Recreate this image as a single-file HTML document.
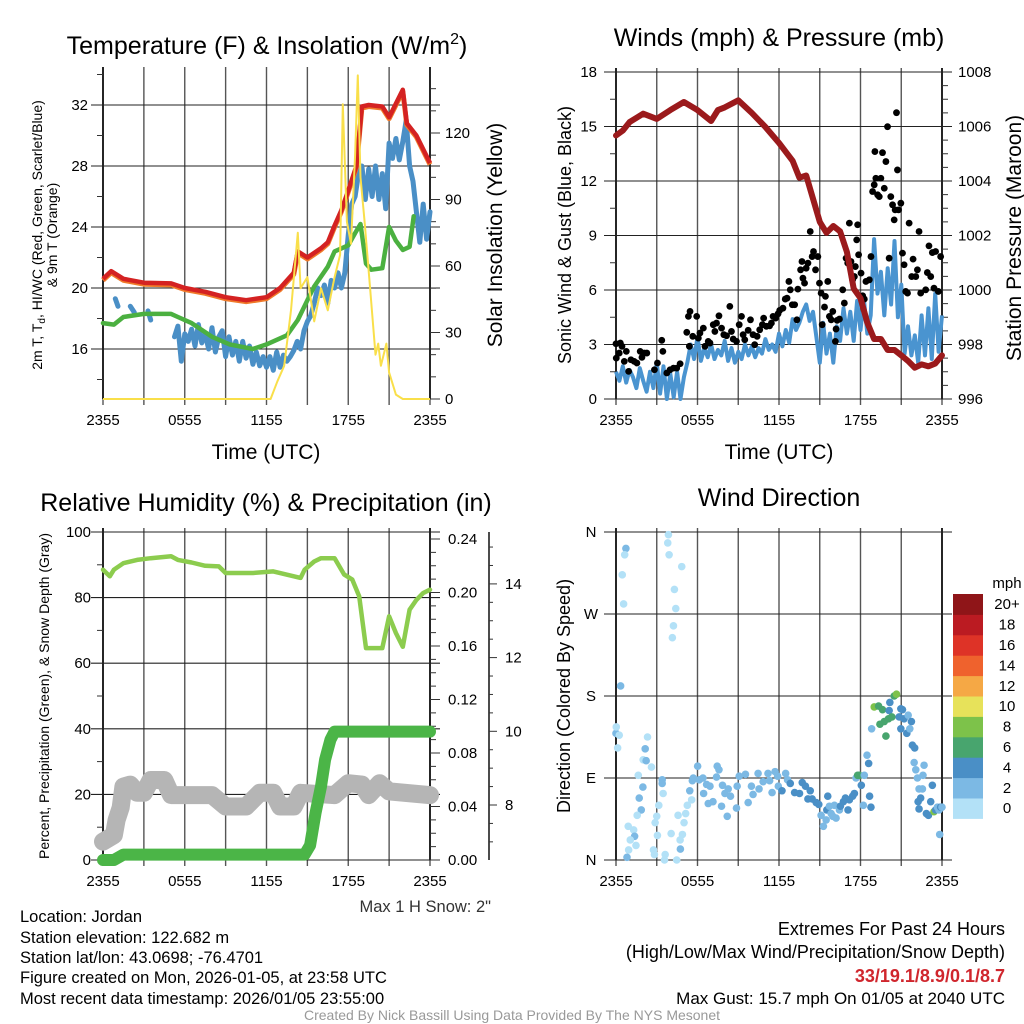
<!DOCTYPE html>
<html><head><meta charset="utf-8"><style>
html,body{margin:0;padding:0;background:#fff;}
svg{display:block;font-family:"Liberation Sans",Arial,sans-serif;}
</style></head><body>
<svg id="chart" width="1024" height="1024" viewBox="0 0 1024 1024" xmlns="http://www.w3.org/2000/svg">
<rect width="1024" height="1024" fill="#fff"/>
<g id="layer"></g>
<text x="267" y="54" font-size="25" text-anchor="middle">Temperature (F) &amp; Insolation (W/m<tspan font-size="16" dy="-10">2</tspan><tspan dy="10">)</tspan></text>
<text x="779" y="46" font-size="25" text-anchor="middle">Winds (mph) &amp; Pressure (mb)</text>
<text x="266" y="511" font-size="25" text-anchor="middle">Relative Humidity (%) &amp; Precipitation (in)</text>
<text x="779" y="506" font-size="25" text-anchor="middle">Wind Direction</text>
<text x="266" y="459" font-size="21" text-anchor="middle">Time (UTC)</text>
<text x="779" y="459" font-size="21" text-anchor="middle">Time (UTC)</text>
<text font-size="14" text-anchor="middle" transform="translate(42,235) rotate(-90)">2m T, T<tspan font-size="10" dy="3">d</tspan><tspan dy="-3">, HI/WC (Red, Green, Scarlet/Blue)</tspan></text>
<text font-size="14" text-anchor="middle" transform="translate(57,235) rotate(-90)">&amp; 9m T (Orange)</text>
<text font-size="21" text-anchor="middle" transform="translate(502,235) rotate(-90)">Solar Insolation (Yellow)</text>
<text font-size="18" text-anchor="middle" transform="translate(571,235) rotate(-90)">Sonic Wind &amp; Gust (Blue, Black)</text>
<text font-size="21" text-anchor="middle" transform="translate(1021,238) rotate(-90)">Station Pressure (Maroon)</text>
<text font-size="14" text-anchor="middle" transform="translate(49,696) rotate(-90)">Percent, Precipitation (Green), &amp; Snow Depth (Gray)</text>
<text font-size="18" text-anchor="middle" transform="translate(570,696) rotate(-90)">Direction (Colored By Speed)</text>
<text x="491" y="912" font-size="16.5" text-anchor="end" fill="#333">Max 1 H Snow: 2"</text>
<g font-size="16.5">
<text x="20" y="922">Location: Jordan</text>
<text x="20" y="943">Station elevation: 122.682 m</text>
<text x="20" y="963">Station lat/lon: 43.0698; -76.4701</text>
<text x="20" y="983">Figure created on Mon, 2026-01-05, at 23:58 UTC</text>
<text x="20" y="1004">Most recent data timestamp: 2026/01/05 23:55:00</text>
</g>
<g font-size="18" text-anchor="end">
<text x="1005" y="935">Extremes For Past 24 Hours</text>
<text x="1005" y="958">(High/Low/Max Wind/Precipitation/Snow Depth)</text>
<text x="1005" y="982" fill="#d0262d" font-weight="bold">33/19.1/8.9/0.1/8.7</text>
<text x="1005" y="1004" font-size="17">Max Gust: 15.7 mph On 01/05 at 2040 UTC</text>
</g>
<text x="512" y="1020" font-size="14" text-anchor="middle" fill="#999">Created By Nick Bassill Using Data Provided By The NYS Mesonet</text>
</svg>
<script>
// ---------- DATA ----------
const timeLabels=["2355","0555","1155","1755","2355"];
// Panel 1
const tempHours=[0,0.6,1.5,3,5,6,7.5,9,10.5,12,13,14,14.3,15,16,16.5,17,17.5,18,18.6,19,19.5,20.5,21,22,22.3,23,24];
const tempVals=[20.6,21.1,20.6,20.35,20.3,20.0,19.75,19.4,19.2,19.4,20.0,21.0,22.4,22.0,22.6,23.0,24.1,25.1,26.4,28.0,31.9,32.0,31.9,31.2,33.0,30.8,30.0,28.2];
const dewHours=[0,0.8,1.5,3,5,5.5,6.5,8,9.3,11,12,13.5,14.3,15,15.5,16.5,17,18,18.5,18.9,19.3,19.7,20.5,21,21.5,22,22.5,22.8];
const dewVals=[17.7,17.6,18.1,18.3,18.3,18.1,17.7,16.8,16.3,16.0,16.3,16.9,17.9,19.2,20.1,21.4,22.4,22.8,23.6,24.2,21.6,21.2,21.3,24.0,23.1,22.5,22.7,24.7];
const wcHours=[0.9,1.1,null,2.0,2.3,null,3.3,3.5,null,5.25,5.5,5.75,6,6.25,6.5,6.75,7,7.25,7.5,7.75,8,8.25,8.5,8.75,9,9.25,9.5,9.75,10,10.25,10.5,10.75,11,11.25,11.5,11.75,12,12.25,12.5,12.75,13,13.25,13.5,13.75,14,14.25,14.5,14.75,15,15.25,15.5,15.75,16,16.25,16.5,16.75,17,17.25,17.5,17.75,18,18.25,18.5,18.75,19,19.25,19.5,19.75,20,20.25,20.5,20.75,21,21.25,21.5,21.75,22,22.25,22.5,22.75,23,23.25,23.5,23.75,24];
const wcVals=[19.3,18.8,null,18.8,18.4,null,18.5,17.9,null,16.8,17.5,15.2,17.0,16.5,17.3,16.2,17.6,16.4,17.0,16.0,17.4,15.8,16.8,17.2,15.5,16.8,15.6,16.5,15.2,16.5,15.4,16.2,15.0,15.8,14.9,15.5,14.8,15.5,14.6,15.8,14.8,15.6,15.2,15.5,15.9,16.5,16.0,17.2,17.8,18.2,19.0,20.0,19.5,20.2,19.0,20.5,20.0,21.0,20.0,21.0,23.5,25.5,26.0,27.5,28.0,25.8,27.8,26.0,28.0,25.8,27.5,25.2,29.5,28.5,29.8,28.4,29.6,31.0,28.0,27.0,25.0,23.0,25.5,23.2,25.0];
const solHours=[0,12.3,12.8,13.3,13.8,14.3,14.5,15,15.5,16,16.5,17,17.4,17.6,17.9,18.2,18.5,18.7,18.9,19.2,19.6,20,20.2,20.4,20.8,21,21.5,22,24];
const solVals=[0,0,8,15,40,75,50,55,35,50,40,55,65,133,80,70,110,146,100,80,50,20,25,15,25,12,2,0,0];
const tempTicks=[16,20,24,28,32];
const solTicks=[0,30,60,90,120];
// Panel 2
const presHours=[0,0.5,1,2,3,4,5,6,7,7.5,8,9,10,11,12,13,13.5,14,15,15.5,16,16.5,17,17.5,18,18.5,19,19.5,20,20.5,21,21.5,22,22.5,23,23.5,24];
const presVals=[1005.67,1005.85,1006.16,1006.47,1006.28,1006.6,1006.9,1006.6,1006.2,1006.6,1006.7,1006.96,1006.5,1005.98,1005.4,1004.74,1004.12,1004.2,1002.5,1002.1,1002.35,1002.15,1001.4,1000.05,999.7,998.8,998.2,998.2,997.8,997.8,997.6,997.4,997.15,997.27,997.2,997.3,997.6];
const windVals=[1.5,1.0,1.8,0.9,1.6,1.2,0.6,1.7,1.0,0.4,1.5,0.6,2.0,0.3,1.8,0.0,1.4,0.1,1.5,0.0,1.2,2.0,3.0,2.2,3.4,2.1,2.8,2.3,3.0,2.2,2.7,2.4,3.2,2.1,2.8,2.0,2.6,2.2,3.0,2.4,2.9,2.3,2.8,2.5,3.3,2.7,3.0,2.6,3.6,2.9,3.8,3.1,4.4,3.8,4.2,4.8,5.2,4.3,4.8,3.4,2.0,4.2,2.5,3.6,2.0,4.0,3.2,5.0,3.6,4.8,3.2,5.4,3.8,5.5,3.6,4.6,8.8,5.8,7.0,4.6,7.2,5.2,8.7,4.5,6.3,2.5,4.0,2.4,3.5,2.0,4.6,2.4,5.0,2.2,5.8,2.6,4.6];
const gustHours=[0.0,0.02,0.32,0.24,0.44,0.61,0.76,0.93,1.1,1.34,1.54,1.78,1.91,2.08,2.27,2.83,3.05,3.37,3.45,3.74,3.98,4.23,4.47,4.72,5.21,5.33,5.45,5.4,5.65,5.94,6.06,6.18,6.43,6.55,6.79,6.92,7.16,7.28,7.4,7.58,7.77,7.94,8.14,8.38,8.5,8.63,8.87,9.07,9.24,9.36,9.48,9.73,9.9,10.09,10.21,10.39,10.58,10.78,10.87,11.07,11.31,11.44,11.56,11.75,11.93,12.05,12.29,12.46,12.59,12.73,12.83,12.98,13.15,13.32,13.39,13.59,13.69,13.76,13.88,14.0,14.13,14.3,14.44,14.54,14.69,14.86,14.98,15.1,15.18,15.35,15.42,15.59,15.71,15.84,15.96,16.15,16.2,16.28,16.45,16.69,16.81,16.94,17.06,17.18,17.3,17.42,17.55,17.62,17.72,17.79,17.86,18.04,18.16,18.28,18.4,18.65,18.77,18.89,19.01,19.06,19.13,19.26,19.38,19.5,19.62,19.75,19.87,19.99,20.11,20.23,20.36,20.48,20.55,20.65,20.72,20.8,20.97,21.09,21.21,21.33,21.46,21.58,21.77,21.87,22.07,22.19,22.31,22.43,22.8,22.92,23.04,23.17,23.29,23.41,23.53,23.73,23.9];
const gustVals=[3.04,2.25,3.08,2.53,2.9,2.07,2.62,1.52,2.16,2.07,1.98,2.62,2.29,2.53,2.53,1.61,1.98,3.23,2.62,1.43,1.61,1.7,1.7,1.94,3.67,4.55,4.82,2.9,3.45,4.55,3.35,3.63,3.9,2.9,3.17,3.08,4.09,3.72,4.18,4.58,3.9,3.54,3.48,5.1,3.72,3.3,3.17,4.09,4.55,3.54,3.26,3.78,4.36,3.54,2.99,3.45,3.81,4.09,4.45,4.0,4.03,4.18,4.55,4.45,4.69,4.88,5.0,5.5,5.55,6.47,6.01,5.19,5.19,4.36,6.05,7.11,7.57,6.65,6.38,7.2,7.48,9.22,7.84,8.12,7.11,7.84,6.38,5.83,4.09,5.06,5.65,6.47,4.55,4.36,4.82,3.17,3.85,4.33,4.4,6.01,5.28,7.75,7.48,9.68,7.57,6.56,6.74,7.29,8.76,9.59,7.94,6.93,5.68,5.5,6.47,6.56,7.84,11.42,11.79,13.62,12.15,11.24,11.14,12.15,13.56,11.6,13.07,14.99,7.75,11.14,10.69,9.86,10.41,15.76,12.61,10.41,10.78,8.03,7.39,5.92,5.83,9.68,6.74,7.7,6.74,7.11,9.22,5.83,6.01,6.96,8.43,6.74,8.06,6.1,8.12,5.92,7.84];
const speedTicks=[0,3,6,9,12,15,18];
const presTicks=[996,998,1000,1002,1004,1006,1008];
// Panel 3
const rhHours=[0,0.5,0.8,1.5,2.5,3.5,5,5.5,6.5,7.5,8.5,9,11,12.5,14,14.5,14.8,15.5,16,17,17.7,18.3,18.8,19.3,20.5,21,21.5,22,22.5,23,23.5,24];
const rhVals=[88.5,86.5,88.5,90.5,91.5,92,92.6,91.5,90.7,89.7,89.5,87.5,87.5,88,86.5,86,88.5,91,92,92,87,85.5,80.4,64.6,64.6,74.3,69.2,65,76.3,79.3,81.4,82.4];
const precipHours=[0,0.8,1.5,14.8,15.2,15.6,16,16.3,16.7,17,24];
const precipVals=[0,0,0.004,0.004,0.011,0.035,0.055,0.075,0.09,0.096,0.096];
const snowHours=[0,0.8,1,1.3,1.5,2,2.5,3,3.5,4.5,5,8,9,10.5,11.5,12.5,13,14,14.5,17,18,19,19.5,20.3,21,24];
const snowVals=[5.6,7.6,12.2,16,22.4,23,20.5,20.5,24.4,24.4,19.8,19.8,16.3,16.3,20.5,20.5,16.3,16.3,20.5,19.8,23.4,23,19.8,23.4,20.9,19.8];
const pctTicks=[0,20,40,60,80,100];
const precipTicks=["0.00","0.04","0.08","0.12","0.16","0.20","0.24"];
const snowTicks=[8,10,12,14];
// Panel 4
const dirHours=[0.73,0.64,0.46,0.56,0.34,0.0,0.02,0.24,0.12,2.32,2.15,2.0,2.22,2.61,1.64,1.98,1.71,1.86,1.56,0.9,1.3,1.37,1.05,0.93,1.47,0.81,2.76,2.83,3.62,3.57,4.47,4.74,4.06,4.72,4.89,3.05,2.88,3.0,3.15,3.47,3.4,3.4,3.86,3.81,3.91,4.84,4.3,4.4,4.23,4.15,4.57,5.01,5.13,5.25,5.57,5.43,5.62,6.01,5.69,6.13,6.45,6.4,6.67,6.79,7.14,6.92,7.4,7.45,7.58,7.77,7.84,8.02,8.19,8.26,8.43,8.87,8.92,9.07,9.53,9.73,9.97,10.09,10.46,10.53,10.83,11.19,11.31,11.49,11.71,11.9,11.95,12.22,12.49,12.63,12.83,13.15,13.51,13.71,13.95,14.13,14.3,14.44,14.74,14.93,15.1,15.27,15.47,15.59,15.52,15.71,15.84,16.08,15.96,16.2,16.45,16.52,16.74,16.89,17.08,17.18,17.42,17.55,17.67,17.79,17.91,18.06,18.21,18.28,18.48,18.6,18.67,18.77,18.82,19.01,19.33,19.43,19.62,19.75,19.87,20.06,20.16,20.11,20.31,20.48,20.65,20.85,20.97,21.09,21.21,20.97,21.41,21.51,21.63,21.75,21.82,21.99,21.95,22.07,22.19,22.6,22.68,22.31,22.56,22.43,22.24,22.31,22.85,23.0,23.17,23.29,23.41,23.53,23.66,23.78,23.9,24.0,23.83];
const dirDeg=[342,335,313,281,191,139,146,137,123,135,122,110,109,102,93,80,68,55,49,37,33,26,22,11,16,3,11,6,6,0,0,12,29,22,28,27,41,48,60,73,84,88,357,348,335,322,297,276,257,244,49,41,51,60,66,76,87,103,90,88,73,90,83,62,64,81,91,103,99,59,82,73,48,78,70,57,81,92,94,63,81,72,95,78,86,95,87,74,97,92,81,76,95,88,84,74,73,85,81,67,76,67,63,61,49,37,44,70,55,59,51,60,48,46,55,59,64,68,55,66,70,73,90,93,93,82,60,93,115,106,70,58,144,168,169,149,165,152,136,155,173,164,157,180,182,157,166,165,155,144,139,159,144,152,126,123,107,99,90,93,104,78,78,68,64,56,51,49,64,82,53,55,58,55,58,58,28];
const dirSpeed=[2.5,1,1,1,2.5,2.5,1,1,1,1,2.5,1,2.5,1,1,2.5,2.5,2.5,1,1,1,2.5,1,1,1,2.5,1,1,1,1,1,2.5,1,1,1,1,1,1,1,1,2.5,2.5,1,1,1,1,1,1,1,1,1,1,1,1,1,2.5,2.5,2.5,2.5,2.5,2.5,2.5,2.5,2.5,2.5,2.5,2.5,2.5,2.5,2.5,2.5,2.5,2.5,2.5,2.5,2.5,2.5,2.5,2.5,2.5,2.5,2.5,2.5,2.5,2.5,2.5,2.5,2.5,2.5,2.5,2.5,4.5,2.5,2.5,4.5,4.5,4.5,4.5,4.5,4.5,4.5,4.5,4.5,4.5,2.5,2.5,2.5,4.5,4.5,2.5,2.5,2.5,2.5,2.5,2.5,4.5,4.5,4.5,4.5,4.5,4.5,4.5,2.5,6.5,6.5,4.5,2.5,2.5,2.5,4.5,4.5,4.5,2.5,8.5,6.5,6.5,6.5,6.5,6.5,6.5,4.5,4.5,6.5,6.5,8.5,4.5,4.5,4.5,4.5,4.5,4.5,2.5,2.5,4.5,4.5,4.5,2.5,2.5,2.5,2.5,2.5,2.5,2.5,4.5,4.5,4.5,4.5,4.5,4.5,4.5,8.5,4.5,2.5,2.5,4.5,2.5,2.5];
const dirTickLabels=["N","E","S","W","N"];
const dirTicks=[0,90,180,270,360];
const cbarLabels=["0","2","4","6","8","10","12","14","16","18","20+"];
const cbarColors=["#b3e1f7","#7cb9e4","#4a8fc6","#48a56e","#7dc24a","#e7e25a","#f5a845","#ef622d","#de3327","#bb1b22","#8f1518"];

// ---------- HELPERS ----------
const NS="http://www.w3.org/2000/svg";
const layer=document.getElementById('layer');
function mk(tag,attrs,parent){const e=document.createElementNS(NS,tag);for(const k in attrs)e.setAttribute(k,attrs[k]);(parent||layer).appendChild(e);return e;}
function txt(s,attrs,parent){const e=mk('text',attrs,parent);e.textContent=s;return e;}
const P1={x0:103,x1:430,y0:71,y1:399};
const P2={x0:616,x1:942,y0:72,y1:399};
const P3={x0:103,x1:430,y0:532,y1:860};
const P4={x0:616,x1:942,y0:532,y1:860};
const xs=(p,h)=>p.x0+(p.x1-p.x0)*h/24;
const yTemp=v=>105+(32-v)*15.25;
const ySol=v=>399-v*266/120;
const ySpd=v=>399-v*327/18;
const yPres=v=>399-(v-996)*327/12;
const yPct=v=>860-v*3.28;
const yPrec=v=>860-v*321/0.24;
const ySnow=v=>805-(v-8)*36.85;
const yDir=d=>860-d*328/360;

function path(p,hours,vals,yf){let d='',pen=false;for(let i=0;i<hours.length;i++){if(hours[i]===null||vals[i]===null){pen=false;continue;}d+=(pen?'L':'M')+xs(p,hours[i]).toFixed(1)+' '+yf(vals[i]).toFixed(1)+' ';pen=true;}return d;}

function frame(p,name){
  const g=mk('g',{});
  
  
  for(let i=0;i<=8;i++){const x=p.x0+(p.x1-p.x0)*i/8;
    const l=mk('line',{x1:x,x2:x,y1:p.y0-4,y2:p.y1+6,stroke:'#555','stroke-width':1.4},g);
    
    }
  timeLabels.forEach((t,i)=>{const x=p.x0+(p.x1-p.x0)*i/4;
    const e=txt(t,{x:x,y:p.y1+26,'font-size':15,'text-anchor':'middle'},g);
    
    });
  mk('line',{x1:p.x0,x2:p.x0,y1:p.y0-4,y2:p.y1,stroke:'#000','stroke-width':1.6},g);
  mk('line',{x1:p.x1,x2:p.x1,y1:p.y0-4,y2:p.y1,stroke:'#000','stroke-width':1.6},g);
  return g;
}
function hgrid(p,y,g){const l=mk('line',{x1:p.x0-12,x2:p.x1+10,y1:y,y2:y,stroke:'#222','stroke-width':1.1},g);
  
  }
function ylab(s,x,y,anchor,g){const e=txt(s,{x:x,y:y+5,'font-size':15,'text-anchor':anchor},g);
  
  }
function minor(x,y,len,g){mk('line',{x1:x,x2:x+len,y1:y,y2:y,stroke:'#333','stroke-width':1},g);}

// ---------- PANEL 1 ----------
const g1=frame(P1,'panel1');
tempTicks.forEach(v=>{hgrid(P1,yTemp(v),g1);ylab(String(v),88,yTemp(v),'end',g1);});
for(let v=14;v<=34;v+=2){if(v%4)minor(P1.x0,yTemp(v),-6,g1);}
solTicks.forEach(v=>{minor(P1.x1,ySol(v),10,g1);ylab(String(v),445,ySol(v),'start',g1);});
for(let v=10;v<=140;v+=10){if(v%30)minor(P1.x1,ySol(v),6,g1);}
let e;
e=mk('path',{d:path(P1,wcHours,wcVals,yTemp),fill:'none',stroke:'#4a8fc6','stroke-width':5,'stroke-linejoin':'round','stroke-linecap':'round'});


e=mk('path',{d:path(P1,dewHours,dewVals,yTemp),fill:'none',stroke:'#4bb040','stroke-width':4.5,'stroke-linejoin':'round','stroke-linecap':'round'});


e=mk('path',{d:path(P1,tempHours,tempVals,v=>yTemp(v)+1.5),fill:'none',stroke:'#f07a2a','stroke-width':5,'stroke-linejoin':'round'});


e=mk('path',{d:path(P1,tempHours,tempVals,yTemp),fill:'none',stroke:'#d42222','stroke-width':4.5,'stroke-linejoin':'round'});


e=mk('path',{d:path(P1,solHours,solVals,ySol),fill:'none',stroke:'#f9df4a','stroke-width':2,'stroke-linejoin':'round'});



// ---------- PANEL 2 ----------
const g2=frame(P2,'panel2');
speedTicks.forEach(v=>{hgrid(P2,ySpd(v),g2);ylab(String(v),597,ySpd(v),'end',g2);});
presTicks.forEach(v=>{ylab(String(v),958,yPres(v),'start',g2);});
for(let v=996.5;v<1008;v+=0.5){if(v%2)minor(P2.x1,yPres(v),6,g2);}
for(let v=1.5;v<18;v+=3)minor(P2.x0,ySpd(v),-6,g2);
const windHours=windVals.map((_,i)=>i*0.25);
e=mk('path',{d:path(P2,windHours,windVals,ySpd),fill:'none',stroke:'#4a94d0','stroke-width':4,'stroke-linejoin':'round'});


gustHours.forEach((h,i)=>{const c=mk('circle',{cx:xs(P2,h),cy:ySpd(gustVals[i]),r:3.4,fill:'#000'});
  
  });
e=mk('path',{d:path(P2,presHours,presVals,yPres),fill:'none',stroke:'#9b1a1c','stroke-width':6,'stroke-linejoin':'round','stroke-linecap':'round'});



// ---------- PANEL 3 ----------
const g3=frame(P3,'panel3');
pctTicks.forEach(v=>{hgrid(P3,yPct(v),g3);ylab(String(v),91,yPct(v),'end',g3);});
for(let v=10;v<100;v+=20)minor(P3.x0,yPct(v),-6,g3);
precipTicks.forEach(s=>{const v=parseFloat(s);minor(P3.x1,yPrec(v),10,g3);ylab(s,448,yPrec(v),'start',g3);});
for(let v=0.01;v<0.24;v+=0.01){if(Math.round(v*100)%4)minor(P3.x1,yPrec(v),6,g3);}
mk('line',{x1:489,x2:489,y1:532,y2:860,stroke:'#000','stroke-width':1.4},g3);
snowTicks.forEach(v=>{minor(489,ySnow(v),8,g3);ylab(String(v),505,ySnow(v),'start',g3);});
for(let v=7;v<=15;v+=0.5){if(v%2)minor(489,ySnow(v),4,g3);}
e=mk('path',{d:path(P3,snowHours,snowVals,yPct),fill:'none',stroke:'#b5b5b5','stroke-width':18,'stroke-linejoin':'round','stroke-linecap':'round'});


e=mk('path',{d:path(P3,precipHours,precipVals,yPrec),fill:'none',stroke:'#4bb547','stroke-width':12,'stroke-linejoin':'round','stroke-linecap':'round'});


e=mk('path',{d:path(P3,rhHours,rhVals,yPct),fill:'none',stroke:'#8ccc4e','stroke-width':4.5,'stroke-linejoin':'round','stroke-linecap':'round'});



// ---------- PANEL 4 ----------
const g4=frame(P4,'panel4');
dirTicks.forEach((d,i)=>{hgrid(P4,yDir(d),g4);ylab(dirTickLabels[i],591,yDir(d),'middle',g4);});
function spdColor(s){const i=Math.min(10,Math.max(0,Math.floor(s/2)));return cbarColors[i];}
dirHours.forEach((h,i)=>{const c=mk('circle',{cx:xs(P4,h),cy:yDir(dirDeg[i]),r:3.8,fill:spdColor(dirSpeed[i])});
  
  });
const cb=mk('g',{});


const cbTop=594,cbH=20.4;
cbarLabels.forEach((l,i)=>{const y=cbTop+(10-i)*cbH;
  const r=mk('rect',{x:953,y:y,width:30,height:cbH+0.5,fill:cbarColors[i]},cb);
  
  
  const t=txt(l,{x:1007,y:y+cbH/2+5,'font-size':15,'text-anchor':'middle'},cb);
  
  });
txt('mph',{x:1007,y:588,'font-size':15,'text-anchor':'middle'},cb);
</script>
</body></html>
